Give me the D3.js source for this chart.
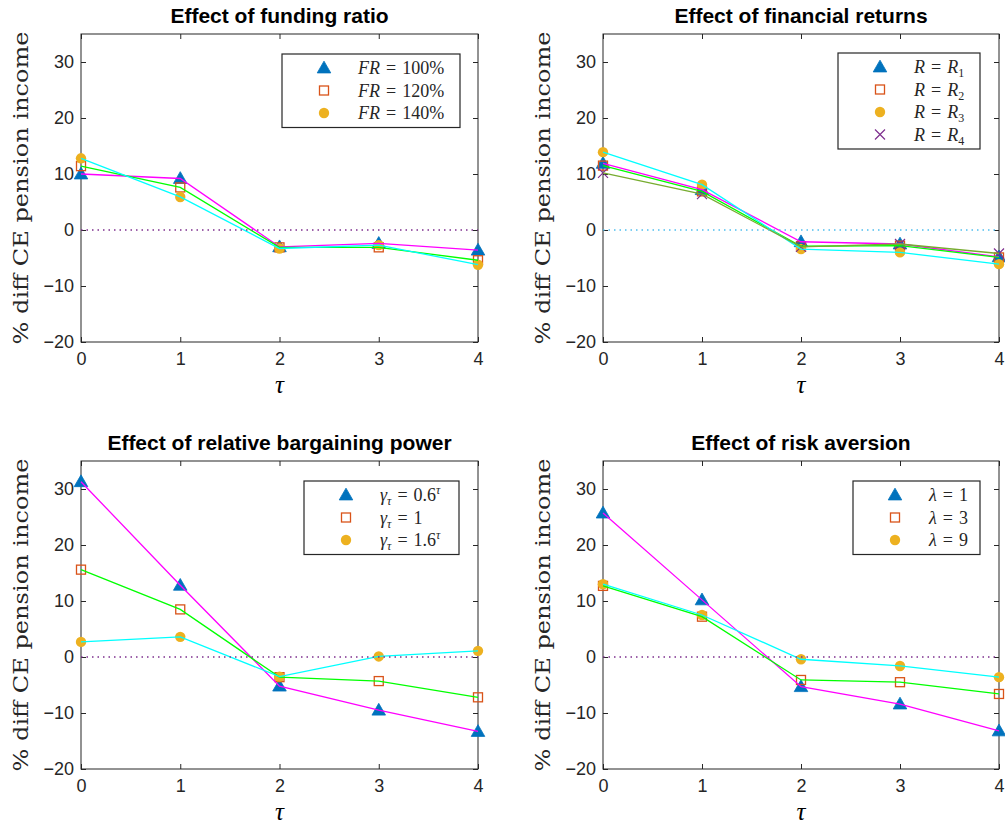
<!DOCTYPE html>
<html>
<head>
<meta charset="utf-8">
<script src="https://cdn.jsdelivr.net/npm/d3@7"></script>
<style>
  body { margin: 0; background: #fff; }
  text { font-family: "Liberation Sans", Arial, sans-serif; }
  .math { font-family: "Liberation Serif", "DejaVu Serif", serif; }
  .ylab { font-family: "DejaVu Serif", serif; }
</style>
</head>
<body>
<svg id="chart" width="1005" height="832"></svg>
<script>
// values
const tau = [0, 1, 2, 3, 4];
const yTicks = [-20, -10, 0, 10, 20, 30];

const frTitle = "Effect of funding ratio";
const frLabels = ["FR = 100%", "FR = 120%", "FR = 140%"];
const fr100 = [10.0, 9.2, -3.0, -2.4, -3.6];
const fr120 = [11.4, 7.6, -3.1, -3.1, -5.4];
const fr140 = [12.8, 5.9, -3.3, -2.7, -6.2];

const retTitle = "Effect of financial returns";
const retLabels = ["R = R_1", "R = R_2", "R = R_3", "R = R_4"];
const retR1 = [11.9, 7.2, -2.1, -2.5, -4.8];
const retR2 = [11.5, 6.9, -2.9, -2.8, -4.9];
const retR3 = [13.9, 8.1, -3.4, -4.0, -6.1];
const retR4 = [10.2, 6.4, -3.0, -2.5, -4.2];

const gamTitle = "Effect of relative bargaining power";
const gamLabels = ["γ_τ = 0.6^τ", "γ_τ = 1", "γ_τ = 1.6^τ"];
const gam06 = [31.3, 12.8, -5.2, -9.5, -13.3];
const gam1 = [15.6, 8.5, -3.6, -4.3, -7.2];
const gam16 = [2.7, 3.6, -3.5, 0.1, 1.1];

const lamTitle = "Effect of risk aversion";
const lamLabels = ["λ = 1", "λ = 3", "λ = 9"];
const lam1 = [25.7, 10.2, -5.3, -8.4, -13.2];
const lam3 = [12.7, 7.2, -4.1, -4.5, -6.6];
const lam9 = [13.0, 7.5, -0.4, -1.6, -3.6];

// styles
const markerTypes = ["triangle", "square", "circle", "cross"];
const markerColors = ["#0072BD", "#D95319", "#EDB120", "#7E2F8E"];
const lineColors = ["#ff00ff", "#00ff00", "#00ffff", "#77AC30"];

const panels = [
  { title: frTitle, series: [fr100, fr120, fr140], labels: frLabels,
    rect: [81, 34, 397, 308], zero: "#7E2F8E", legend: [282, 54, 178] },
  { title: retTitle, series: [retR1, retR2, retR3, retR4], labels: retLabels,
    rect: [603, 34, 396, 308], zero: "#4DBEEE", legend: [838, 53, 142] },
  { title: gamTitle, series: [gam06, gam1, gam16], labels: gamLabels,
    rect: [81, 461, 397, 308], zero: "#7E2F8E", legend: [304, 481, 155] },
  { title: lamTitle, series: [lam1, lam3, lam9], labels: lamLabels,
    rect: [603, 461, 396, 308], zero: "#7E2F8E", legend: [853, 481, 127] }
];

const svg = d3.select("#chart");

function drawMarker(g, type, cx, cy, color) {
  if (type === "triangle") {
    g.append("path")
      .attr("d", d3.symbol(d3.symbolTriangle, 80)())
      .attr("transform", `translate(${cx},${cy + 1})`)
      .attr("fill", color).attr("stroke", color).attr("stroke-width", 0.8);
  } else if (type === "square") {
    g.append("rect")
      .attr("x", cx - 4.5).attr("y", cy - 4.5).attr("width", 9).attr("height", 9)
      .attr("fill", "none").attr("stroke", color).attr("stroke-width", 1.3);
  } else if (type === "circle") {
    g.append("circle").attr("cx", cx).attr("cy", cy).attr("r", 5.2)
      .attr("fill", color);
  } else {
    g.append("path")
      .attr("d", `M${cx - 5},${cy - 5}L${cx + 5},${cy + 5}M${cx - 5},${cy + 5}L${cx + 5},${cy - 5}`)
      .attr("stroke", color).attr("stroke-width", 1.2).attr("fill", "none");
  }
}

// simple latex-ish label: letters italic, _x subscript, ^x superscript
function mathText(sel, str) {
  const chars = Array.from(str.replace(/ = /g, "\u2004=\u2004"));
  let shift = 0;
  for (let i = 0; i < chars.length; i++) {
    let c = chars[i];
    let mode = null;
    if (c === "_" || c === "^") { mode = c; c = chars[++i]; }
    const isLetter = /\p{L}/u.test(c);
    const ts = sel.append("tspan").text(c);
    if (isLetter) ts.attr("font-style", "italic");
    let target = 0;
    if (mode === "_") target = 4;
    if (mode === "^") target = -7;
    if (target !== shift) { ts.attr("dy", target - shift); shift = target; }
    if (mode) ts.attr("font-size", 12);
  }
  return sel;
}

panels.forEach(p => {
  const [left, top, w, h] = p.rect;
  const x = d3.scaleLinear().domain([0, 4]).range([left, left + w]);
  const y = d3.scaleLinear().domain([-20, 35]).range([top + h, top]);
  const g = svg.append("g");

  // axes with inward ticks on all four sides
  const axes = [
    [d3.axisBottom(x).tickValues(tau).tickFormat(d3.format("d")), top + h, "y"],
    [d3.axisTop(x).tickValues(tau).tickFormat(""), top, "y"],
    [d3.axisLeft(y).tickValues(yTicks).tickFormat(d3.format("d")), left, "x"],
    [d3.axisRight(y).tickValues(yTicks).tickFormat(""), left + w, "x"]
  ];
  axes.forEach(([ax, pos, dim]) => {
    const a = g.append("g")
      .attr("transform", dim === "y" ? `translate(0,${pos})` : `translate(${pos},0)`)
      .call(ax.tickSizeInner(-5).tickSizeOuter(0).tickPadding(dim === "y" ? 10 : 7));
    a.select(".domain").remove();
    a.selectAll("line").attr("stroke", "#262626");
    a.selectAll("text").attr("font-size", 18).attr("fill", "#262626")
      .attr("font-family", "Liberation Sans, Arial, sans-serif");
  });
  g.append("rect").attr("x", left).attr("y", top).attr("width", w).attr("height", h)
    .attr("fill", "none").attr("stroke", "#262626").attr("stroke-width", 1);

  // markers then lines
  p.series.forEach((s, i) => {
    s.forEach((v, j) => drawMarker(g, markerTypes[i], x(tau[j]), y(v), markerColors[i]));
  });
  const line = d3.line().x((d, j) => x(tau[j])).y(d => y(d));
  p.series.forEach((s, i) => {
    g.append("path").attr("d", line(s)).attr("fill", "none")
      .attr("stroke", lineColors[i]).attr("stroke-width", 1.3);
  });
  g.append("line").attr("x1", x(0)).attr("x2", x(4)).attr("y1", y(0)).attr("y2", y(0))
    .attr("stroke", p.zero).attr("stroke-width", 1.3).attr("stroke-dasharray", "1.5,4");

  // title
  g.append("text").attr("x", left + w / 2).attr("y", top - 11)
    .attr("text-anchor", "middle").attr("font-weight", "bold").attr("font-size", 21)
    .text(p.title);

  // axis labels
  g.append("text").attr("class", "math").attr("x", left + w / 2).attr("y", top + h + 51)
    .attr("text-anchor", "middle").attr("font-size", 25).attr("font-style", "italic").text("τ");
  g.append("text").attr("class", "ylab")
    .attr("transform", `translate(${left - 53},${top + h / 2}) rotate(-90)`)
    .attr("text-anchor", "middle").attr("font-size", 21).attr("fill", "#262626")
    .attr("textLength", 313).attr("lengthAdjust", "spacingAndGlyphs")
    .text("% diff CE pension income");

  // legend
  const [lx, ly, lw] = p.legend;
  const rowH = 22.5;
  const lh = p.labels.length * rowH + 6;
  const lg = svg.append("g");
  lg.append("rect").attr("x", lx).attr("y", ly).attr("width", lw).attr("height", lh)
    .attr("fill", "#fff").attr("stroke", "#262626").attr("stroke-width", 1.2);
  p.labels.forEach((lab, i) => {
    const cy = ly + 14 + i * rowH;
    drawMarker(lg, markerTypes[i], lx + 42, cy, markerColors[i]);
    const t = lg.append("text").attr("class", "math").attr("x", lx + 76).attr("y", cy + 6)
      .attr("font-size", 18).attr("fill", "#262626");
    mathText(t, lab);
  });
});
</script>
</body>
</html>
